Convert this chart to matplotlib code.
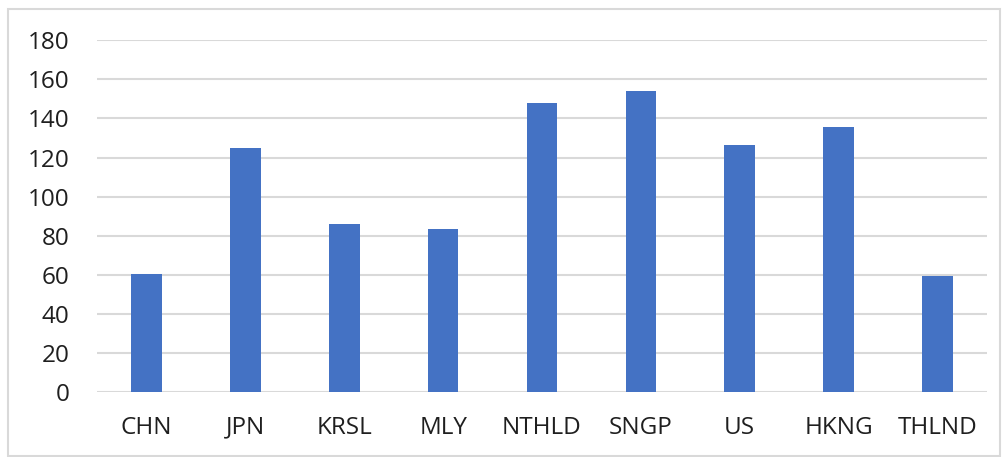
import matplotlib
matplotlib.use("Agg")
import matplotlib.pyplot as plt
from matplotlib.patches import Rectangle

# data
countries = ["CHN", "JPN", "KRSL", "MLY", "NTHLD", "SNGP", "US", "HKNG", "THLND"]
values = [60.3, 124.8, 85.9, 83.2, 148.1, 153.9, 126.2, 135.4, 59.3]
y_ticks = [0, 20, 40, 60, 80, 100, 120, 140, 160, 180]

plt.rcParams["font.family"] = ["Open Sans", "DejaVu Sans"]

fig = plt.figure(figsize=(10.06, 4.57), dpi=100)
W, H = 1006, 457
# plot area in pixels: x 97..987, y 40..392
ax = fig.add_axes([97 / W, 1 - 392 / H, (987 - 97) / W, (392 - 40.3) / H])

x = range(len(countries))
ax.bar(x, values, width=0.31, color="#4472C4", zorder=3)

ax.set_xlim(-0.5, len(countries) - 0.5)
ax.set_ylim(0, 180)
ax.set_yticks(y_ticks)
ax.set_xticks(list(x))
ax.set_xticklabels(countries)
ax.grid(axis="y", color="#d9d9d9", linewidth=1.5, zorder=0)
for s in ax.spines.values():
    s.set_visible(False)
ax.tick_params(axis="both", length=0, labelsize=17.5, colors="#1f1f1f")
ax.tick_params(axis="y", pad=20)
ax.tick_params(axis="x", pad=17)

# outer chart border
fig.patches.append(Rectangle((8 / W, 1 - 456 / H), (1000 - 8) / W, (456 - 9) / H,
                             transform=fig.transFigure, fill=False,
                             edgecolor="#d9d9d9", linewidth=1.5))

fig.savefig("out.png", dpi=100)
